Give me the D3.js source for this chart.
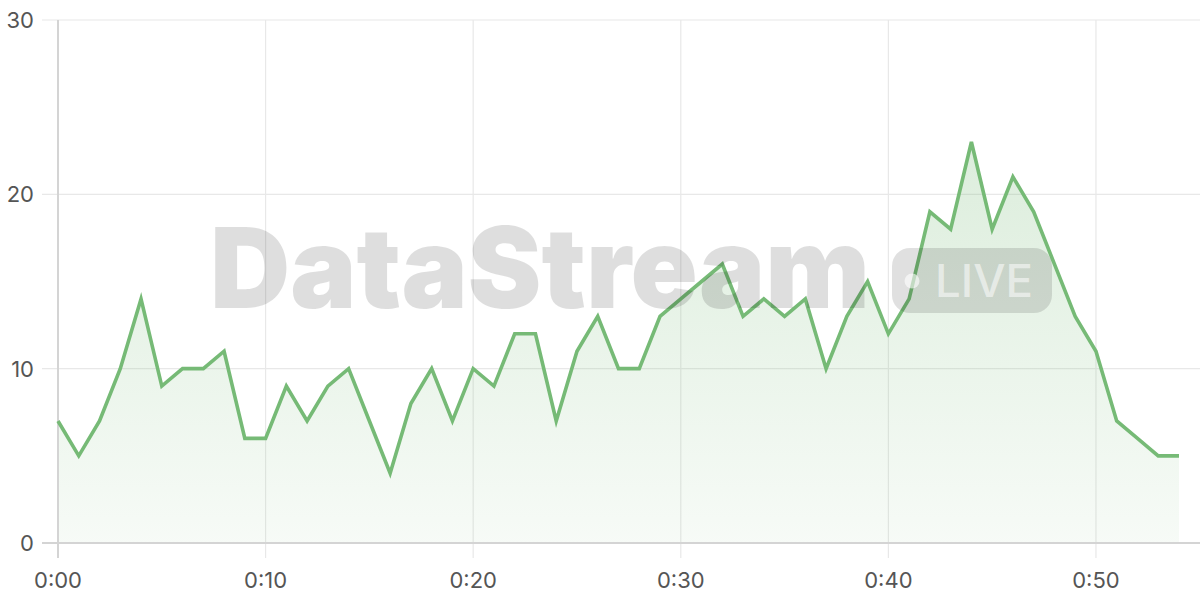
<!DOCTYPE html>
<html><head><meta charset="utf-8">
<script src="https://cdn.jsdelivr.net/npm/d3@7"></script>
<style>html,body{margin:0;padding:0;background:#fff;}svg{display:block;}</style>
</head><body>
<svg id="chart" width="1200" height="600"></svg>
<script>
const minutes = d3.range(0, 55);
const values = [7,5,7,10,14,9,10,10,11,6,6,9,7,9,10,7,4,8,10,7,10,9,12,12,7,11,13,10,10,13,14,15,16,13,14,13,14,10,13,15,12,14,19,18,23,18,21,19,16,13,11,7,6,5,5];
const xTicks = [0,10,20,30,40,50];
const xTickLabels = ["0:00","0:10","0:20","0:30","0:40","0:50"];
const yTicks = [0,10,20,30];
const watermarkText = "DataStream";
const badgeText = "LIVE";

(function(){
const data = minutes.map((m,i)=>({m, v: values[i]}));
const svg = d3.select("#chart");
const W = 1200, pLeft = 58, pRight = 1179, pTop = 20, pBottom = 543;
const x = d3.scaleLinear().domain([0,54]).range([pLeft,pRight]);
const y = d3.scaleLinear().domain([0,30]).range([pBottom,pTop]);
const font = "Inter, 'Open Sans', sans-serif";

const defs = svg.append("defs");
const grad = defs.append("linearGradient").attr("id","g").attr("x1",0).attr("y1",0).attr("x2",0).attr("y2",1);
grad.append("stop").attr("offset","0%").attr("stop-color","#74b874").attr("stop-opacity",0.25);
grad.append("stop").attr("offset","100%").attr("stop-color","#74b874").attr("stop-opacity",0.06);

svg.append("g").selectAll("line").data(yTicks.filter(t=>t>0)).join("line")
  .attr("x1",42).attr("x2",W).attr("y1",d=>y(d)).attr("y2",d=>y(d))
  .attr("stroke","#e8e8e8").attr("stroke-width",1.2);
svg.append("g").selectAll("line").data(xTicks.filter(t=>t>0)).join("line")
  .attr("x1",d=>x(d)).attr("x2",d=>x(d)).attr("y1",pTop).attr("y2",pBottom+15)
  .attr("stroke","#e8e8e8").attr("stroke-width",1.2);

svg.append("path").datum(data)
  .attr("d", d3.area().x(d=>x(d.m)).y0(y(0)).y1(d=>y(d.v)))
  .attr("fill","url(#g)");

svg.append("line").attr("x1",pLeft).attr("x2",pLeft).attr("y1",pTop).attr("y2",pBottom+15)
  .attr("stroke","#d4d4d4").attr("stroke-width",2);
svg.append("line").attr("x1",42).attr("x2",W).attr("y1",y(0)).attr("y2",y(0))
  .attr("stroke","#d4d4d4").attr("stroke-width",2);

svg.append("path").datum(data)
  .attr("d", d3.line().x(d=>x(d.m)).y(d=>y(d.v)))
  .attr("fill","none").attr("stroke","#76ba76").attr("stroke-width",3.6)
  .attr("stroke-linejoin","miter");

svg.append("g").selectAll("text").data(yTicks).join("text")
  .attr("x",34).attr("y",d=>y(d)+8).attr("text-anchor","end")
  .attr("font-family",font).attr("font-size",22).attr("fill","#555").text(d=>d);
svg.append("g").selectAll("text").data(xTicks).join("text")
  .attr("x",d=>x(d)).attr("y",588).attr("text-anchor","middle")
  .attr("font-family",font).attr("font-size",22).attr("fill","#555")
  .text((d,i)=>xTickLabels[i]);

const wm = svg.append("g").attr("pointer-events","none");
wm.append("text").attr("x",210).attr("y",308)
  .attr("font-family",font).attr("font-weight",900).attr("font-size",112)
  .attr("textLength",660).attr("lengthAdjust","spacingAndGlyphs")
  .attr("fill","#000").attr("fill-opacity",0.13).text(watermarkText);
wm.append("rect").attr("x",892).attr("y",248).attr("width",160).attr("height",65).attr("rx",18)
  .attr("fill","#000").attr("fill-opacity",0.12);
wm.append("circle").attr("cx",912).attr("cy",281).attr("r",7.5).attr("fill","#fff").attr("fill-opacity",0.6);
wm.append("text").attr("x",935).attr("y",297)
  .attr("font-family",font).attr("font-weight",500).attr("font-size",45)
  .attr("textLength",98).attr("lengthAdjust","spacingAndGlyphs")
  .attr("fill","#fff").attr("fill-opacity",0.55).text(badgeText);
})();
</script>
</body></html>
